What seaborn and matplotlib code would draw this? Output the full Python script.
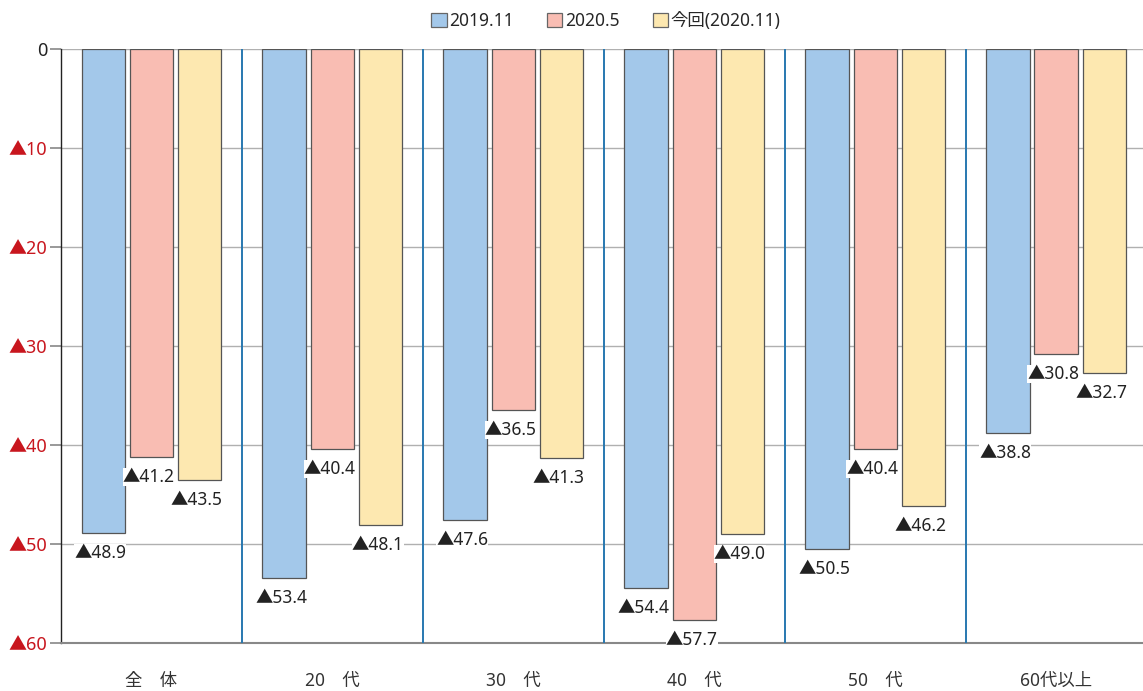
import matplotlib
matplotlib.use("Agg")
import matplotlib.pyplot as plt
import seaborn as sns
import pandas as pd

# Age groups and the three survey waves (declines shown as positive magnitudes)
groups = ["全　体", "20　代", "30　代", "40　代", "50　代", "60代以上"]
waves = ["2019.11", "2020.5", "今回(2020.11)"]
v_2019_11 = [48.9, 53.4, 47.6, 54.4, 50.5, 38.8]
v_2020_5 = [41.2, 40.4, 36.5, 57.7, 40.4, 30.8]
v_2020_11 = [43.5, 48.1, 41.3, 49.0, 46.2, 32.7]
y_ticks = [0, 10, 20, 30, 40, 50, 60]

colors = ["#A3C8EA", "#F9BDB3", "#FDE8B0"]

sns.set_theme(style="white")
plt.rcParams["font.family"] = ["Noto Sans", "Noto Sans CJK JP", "DejaVu Sans"]

rows = []
for series, name in zip([v_2019_11, v_2020_5, v_2020_11], waves):
    for g, v in zip(groups, series):
        rows.append({"group": g, "wave": name, "value": v})
df = pd.DataFrame(rows)

fig = plt.figure(figsize=(11.43, 6.91), dpi=100)
ax = fig.add_axes([0.0534, 0.0695, 0.9466, 0.8596])

sns.barplot(data=df, x="group", y="value", hue="wave", order=groups,
            hue_order=waves, palette=colors, width=0.8, gap=0.1,
            edgecolor="#555555", linewidth=0.9, ax=ax, legend=True,
            errorbar=None, saturation=1)

ax.set_ylim(60, 0)
ax.set_xlim(-0.5, 5.48)
ax.set_yticks(y_ticks)
ax.set_yticklabels(["0"] + [f"▲{t}" for t in y_ticks[1:]], fontsize=13)
for lbl, t in zip(ax.get_yticklabels(), y_ticks):
    lbl.set_color("#222222" if t == 0 else "#C8161E")
ax.tick_params(axis="y", length=8, width=1.2, color="#888888", pad=2, left=True)
ax.tick_params(axis="x", length=0, pad=21, labelsize=12.5)
for lbl in ax.get_xticklabels():
    lbl.set_color("#333333")
ax.set_xlabel("")
ax.set_ylabel("")

# horizontal gridlines
ax.yaxis.grid(True, color="#B0B0B0", linewidth=1.0)
ax.set_axisbelow(True)
for s in ["top", "right"]:
    ax.spines[s].set_visible(False)
ax.spines["left"].set_color("#222222")
ax.spines["left"].set_linewidth(1.0)
ax.spines["bottom"].set_color("#888888")
ax.spines["bottom"].set_linewidth(1.5)

# group separators
for xsep in [0.5, 1.5, 2.5, 3.5, 4.5]:
    ax.axvline(xsep, color="#2878B0", linewidth=1.4, zorder=3)

# value labels under each bar
for container in ax.containers:
    for bar in container:
        h = bar.get_height()
        ax.annotate(f"▲{h:.1f}", (bar.get_x() + bar.get_width() / 2, h),
                    xytext=(-2, -8), textcoords="offset points",
                    ha="center", va="top", fontsize=12.5, color="#222222",
                    bbox=dict(boxstyle="square,pad=0.0", fc="white", ec="none"),
                    zorder=5)

# legend at top
handles, labels = ax.get_legend_handles_labels()
ax.get_legend().remove()
for h in handles:
    h.set_edgecolor("#666666")
fig.legend(handles, labels, loc="upper center", bbox_to_anchor=(0.53, 1.005),
           ncol=3, frameon=False, fontsize=12.5, handlelength=0.9,
           handleheight=0.9, handletextpad=0.15, columnspacing=1.9)

fig.savefig("out.png", dpi=100)
